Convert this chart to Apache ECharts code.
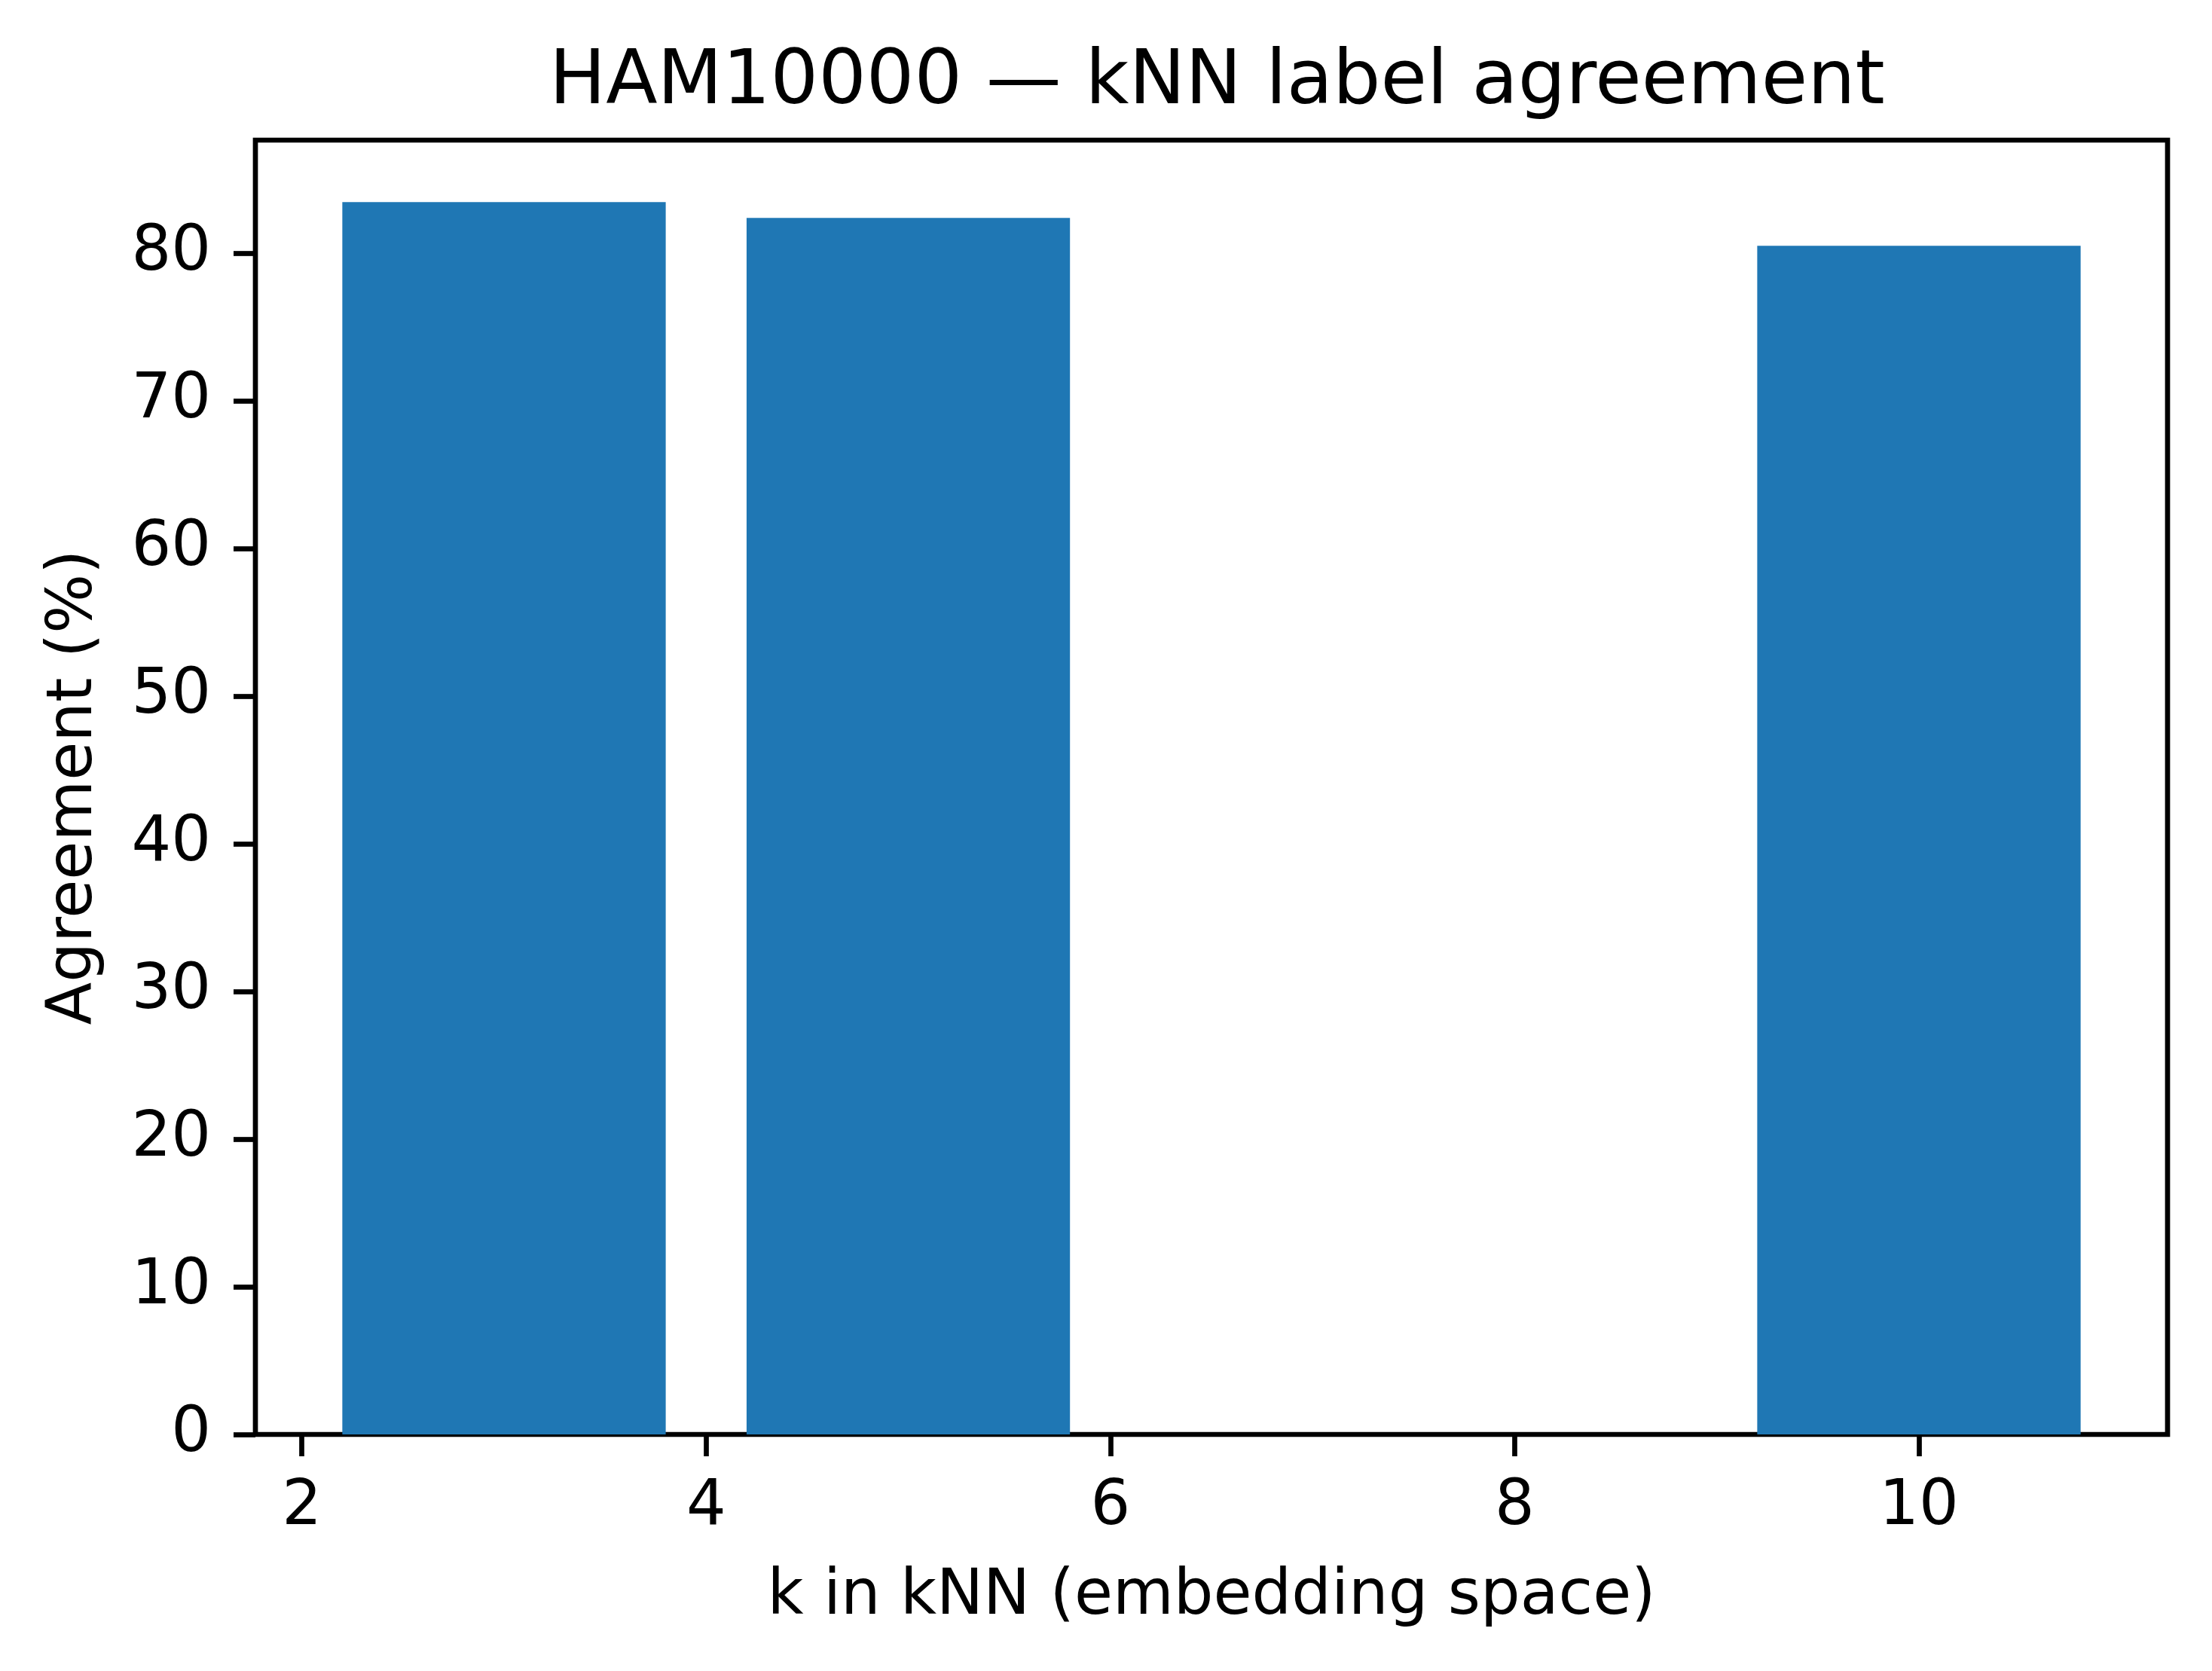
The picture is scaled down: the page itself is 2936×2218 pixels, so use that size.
<!DOCTYPE html>
<html>
<head>
<meta charset="utf-8">
<title>HAM10000 kNN label agreement</title>
<script src="https://cdn.jsdelivr.net/npm/echarts@6/dist/echarts.min.js"></script>
<style>
  html, body { margin: 0; padding: 0; background: #fff; }
  #chart { width: 2936px; height: 2218px; }
</style>
</head>
<body>
<div id="chart"></div>
<script>
// values
var kValues = [3, 5, 10];
var agreement = [83.45, 82.38, 80.49];
var xTicks = [2, 4, 6, 8, 10];
var yTicks = [0, 10, 20, 30, 40, 50, 60, 70, 80];

var barWidth = 0.8; // matplotlib default, in data units
var font = 'DejaVu Sans';

var barData = kValues.map(function (k, i) {
    return [k, agreement[i]];
});

var chart = echarts.init(document.getElementById('chart'));

chart.setOption({
    backgroundColor: '#fff',
    animation: false,
    title: {
        text: 'HAM10000 \u2014 kNN label agreement',
        left: 724, // centred over the plot area, not the page
        top: 56,
        textStyle: { fontFamily: font, fontSize: 100, fontWeight: 'normal', color: '#000', lineHeight: 100 }
    },
    grid: {
        left: 339, right: 59, top: 186, bottom: 314,
        show: true,
        borderColor: '#000',
        borderWidth: 6.7,
        outerBoundsMode: 'none'
    },
    xAxis: {
        type: 'value',
        min: 1.77,
        max: 11.23,
        name: 'k in kNN (embedding space)',
        nameLocation: 'middle',
        nameGap: 175,
        nameTextStyle: { fontFamily: font, fontSize: 83, color: '#000', lineHeight: 83 },
        splitLine: { show: false },
        axisLine: { show: false },
        axisTick: {
            show: true, inside: false, length: 29,
            customValues: xTicks,
            lineStyle: { color: '#000', width: 6.7 }
        },
        axisLabel: {
            customValues: xTicks,
            margin: 56,
            fontFamily: font, fontSize: 83, color: '#000', lineHeight: 83
        }
    },
    yAxis: {
        type: 'value',
        min: 0,
        max: 87.65,
        name: 'Agreement (%)',
        nameLocation: 'middle',
        nameGap: 198,
        nameTextStyle: { fontFamily: font, fontSize: 83, color: '#000', lineHeight: 83 },
        splitLine: { show: false },
        axisLine: { show: false },
        axisTick: {
            show: true, inside: false, length: 29,
            customValues: yTicks,
            lineStyle: { color: '#000', width: 6.7 }
        },
        axisLabel: {
            customValues: yTicks,
            margin: 59,
            fontFamily: font, fontSize: 83, color: '#000', lineHeight: 83
        }
    },
    series: [{
        type: 'custom',
        data: barData,
        clip: true,
        encode: { x: 0, y: 1 },
        renderItem: function (params, api) {
            var k = api.value(0);
            var v = api.value(1);
            var topLeft = api.coord([k - barWidth, v]);
            var bottomRight = api.coord([k + barWidth, 0]);
            return {
                type: 'rect',
                shape: {
                    x: topLeft[0],
                    y: topLeft[1],
                    width: bottomRight[0] - topLeft[0],
                    height: bottomRight[1] - topLeft[1]
                },
                style: { fill: '#1f77b4' }
            };
        }
    }]
});
</script>
</body>
</html>
